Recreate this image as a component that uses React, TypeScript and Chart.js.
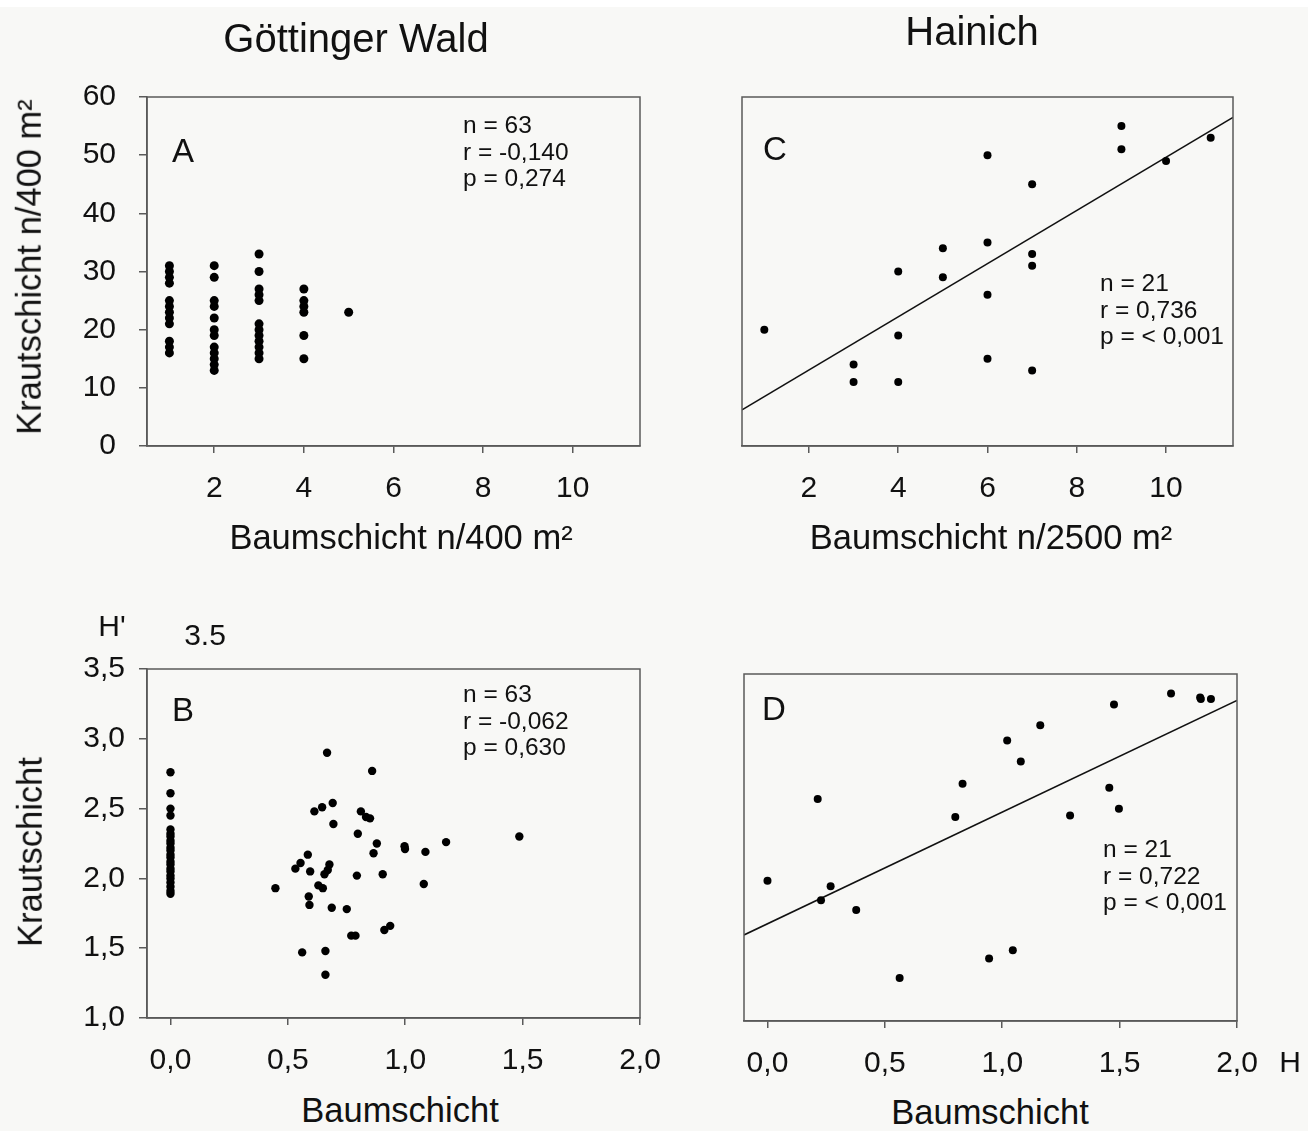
import React, { useEffect, useRef } from "react";
import { Chart, registerables } from "chart.js";
Chart.register(...registerables);

const FONT = '"Liberation Sans", Arial, Helvetica, sans-serif';
const AXIS = "#5a5a5a";
const INK = "#111111";

// ---- Panel A: Göttinger Wald, species richness (n/400 m²)
const gwTreeRichness = [
  1, 1, 1, 1, 1, 1, 1, 1, 1, 1, 1, 1,
  2, 2, 2, 2, 2, 2, 2, 2, 2, 2, 2, 2,
  3, 3, 3, 3, 3, 3, 3, 3, 3, 3, 3, 3,
  4, 4, 4, 4, 4, 4,
  5,
];
const gwHerbRichness = [
  31, 30, 29, 28, 25, 24, 23, 22, 21, 18, 17, 16,
  31, 29, 25, 24, 22, 20, 19, 17, 16, 15, 14, 13,
  33, 30, 27, 26, 25, 21, 20, 19, 18, 17, 16, 15,
  27, 25, 24, 23, 19, 15,
  23,
];

// ---- Panel B: Göttinger Wald, Shannon diversity H'
const gwTreeDiversity = [
  0, 0, 0, 0, 0, 0, 0, 0, 0, 0, 0, 0, 0, 0, 0, 0, 0, 0, 0, 0, 0, 0, 0,
  0.667, 0.859, 0.691, 0.646, 0.613, 0.811, 0.833, 0.85, 0.694, 0.798,
  1.174, 1.486, 0.879, 0.997, 0.999, 1.086, 0.865, 0.585, 0.554, 0.677,
  0.532, 0.595, 0.67, 0.656, 0.794, 0.904, 1.079, 0.63, 0.649, 0.447,
  0.589, 0.592, 0.687, 0.751, 0.936, 0.911, 0.77, 0.788, 0.561, 0.66, 0.66,
];
const gwHerbDiversity = [
  2.76, 2.61, 2.5, 2.45, 2.35, 2.32, 2.3, 2.27, 2.25, 2.22, 2.2, 2.17,
  2.15, 2.12, 2.1, 2.07, 2.05, 2.02, 2.0, 1.97, 1.94, 1.91, 1.89,
  2.9, 2.77, 2.54, 2.51, 2.48, 2.48, 2.44, 2.43, 2.39, 2.32,
  2.26, 2.3, 2.25, 2.23, 2.21, 2.19, 2.18, 2.17, 2.11, 2.1,
  2.07, 2.05, 2.06, 2.03, 2.02, 2.03, 1.96, 1.95, 1.93, 1.93,
  1.87, 1.81, 1.79, 1.78, 1.66, 1.63, 1.59, 1.59, 1.47, 1.48, 1.31,
];

// ---- Panel C: Hainich, species richness (n/2500 m²)
const haTreeRichness = [1, 3, 3, 4, 4, 4, 5, 5, 6, 6, 6, 6, 7, 7, 7, 7, 9, 9, 10, 11];
const haHerbRichness = [20, 14, 11, 30, 19, 11, 34, 29, 50, 35, 26, 15, 45, 33, 31, 13, 55, 51, 49, 53];
const haRichFitX = [0.5, 11.5];
const haRichFitY = [6.2, 56.5];

// ---- Panel D: Hainich, Shannon diversity H'
const haTreeDiversity = [
  0.0, 0.214, 0.269, 0.228, 0.378, 0.563, 0.8, 0.831, 0.944, 1.021, 1.045,
  1.079, 1.162, 1.289, 1.456, 1.476, 1.497, 1.719, 1.843, 1.846, 1.889,
];
const haHerbDiversity = [
  2.01, 2.6, 1.97, 1.87, 1.8, 1.31, 2.47, 2.71, 1.45, 3.02, 1.51,
  2.87, 3.13, 2.48, 2.68, 3.28, 2.53, 3.36, 3.33, 3.32, 3.32,
];
const haDivFitX = [-0.1, 2.0];
const haDivFitY = [1.62, 3.31];

// ---- Tick labels
const richTreeTicks = [2, 4, 6, 8, 10];
const richHerbTicks = [0, 10, 20, 30, 40, 50, 60];
const divTreeTicks = [0, 0.5, 1.0, 1.5, 2.0];
const divHerbTicks = [1.0, 1.5, 2.0, 2.5, 3.0, 3.5];

const zip = (xs: number[], ys: number[]) => xs.map((x, i) => ({ x, y: ys[i] }));
const intFmt = (v: number) => String(Math.round(v));
const decFmt = (v: number) => v.toFixed(1).replace(".", ",");

type PanelProps = {
  cx: number; cy: number; w: number; h: number;
  l: number; t: number; r: number; b: number;
  xMin: number; xMax: number; yMin: number; yMax: number;
  xTicks: number[]; yTicks: number[] | null;
  yPad?: number;
  fmt: (v: number) => string;
  xs: number[]; ys: number[];
  fitX?: number[]; fitY?: number[];
  radius: number;
};

const framePlugin = {
  id: "frame",
  afterDatasetsDraw(chart: any) {
    const { ctx, chartArea } = chart;
    ctx.save();
    ctx.strokeStyle = AXIS;
    ctx.lineWidth = 1.5;
    ctx.strokeRect(
      chartArea.left,
      chartArea.top,
      chartArea.right - chartArea.left,
      chartArea.bottom - chartArea.top
    );
    ctx.restore();
  },
};

function Panel(p: PanelProps) {
  const ref = useRef<HTMLCanvasElement | null>(null);
  useEffect(() => {
    if (!ref.current) return;
    const yW = p.l - p.cx;
    const padT = p.t - p.cy;
    const padR = p.cx + p.w - p.r;
    const xH = p.cy + p.h - p.b;
    const datasets: any[] = [
      {
        data: zip(p.xs, p.ys),
        backgroundColor: "#000",
        borderWidth: 0,
        pointRadius: p.radius,
        showLine: false,
      },
    ];
    if (p.fitX && p.fitY) {
      datasets.push({
        data: zip(p.fitX, p.fitY),
        showLine: true,
        borderColor: INK,
        borderWidth: 1.6,
        pointRadius: 0,
        fill: false,
      });
    }
    const chart = new Chart(ref.current, {
      type: "scatter",
      data: { datasets },
      plugins: [framePlugin],
      options: {
        animation: false,
        responsive: false,
        maintainAspectRatio: false,
        events: [],
        layout: { padding: { left: 0, top: padT, right: padR, bottom: 0 } },
        plugins: { legend: { display: false }, tooltip: { enabled: false } },
        scales: {
          x: {
            type: "linear",
            min: p.xMin,
            max: p.xMax,
            afterBuildTicks: (s: any) => {
              s.ticks = p.xTicks.map((v) => ({ value: v }));
            },
            afterFit: (s: any) => {
              s.height = xH;
            },
            border: { display: true, color: AXIS, width: 1.5 },
            grid: {
              display: true,
              drawOnChartArea: false,
              drawTicks: true,
              tickLength: 7,
              color: AXIS,
              lineWidth: 1.5,
            },
            ticks: {
              autoSkip: false,
              maxRotation: 0,
              padding: 18,
              color: INK,
              font: { family: FONT, size: 30 },
              callback: (v: any) => p.fmt(Number(v)),
            },
          },
          y: {
            type: "linear",
            display: p.yTicks ? true : false,
            min: p.yMin,
            max: p.yMax,
            afterBuildTicks: (s: any) => {
              if (p.yTicks) s.ticks = p.yTicks.map((v) => ({ value: v }));
            },
            afterFit: (s: any) => {
              s.width = yW;
            },
            border: { display: true, color: AXIS, width: 1.5 },
            grid: {
              display: true,
              drawOnChartArea: false,
              drawTicks: true,
              tickLength: 8,
              color: AXIS,
              lineWidth: 1.5,
            },
            ticks: {
              autoSkip: false,
              padding: p.yPad ?? 18,
              color: INK,
              font: { family: FONT, size: 30 },
              callback: (v: any) => p.fmt(Number(v)),
            },
          },
        },
      } as any,
    });
    return () => chart.destroy();
  }, []);
  return (
    <canvas
      ref={ref}
      width={p.w}
      height={p.h}
      style={{ position: "absolute", left: p.cx, top: p.cy, width: p.w, height: p.h }}
    />
  );
}

function Txt(props: {
  x: number; y: number; size: number; children: React.ReactNode;
  align?: "center" | "left"; rotate?: boolean;
}) {
  const tx = props.align === "left" ? "0" : "-50%";
  return (
    <div
      style={{
        position: "absolute",
        left: props.x,
        top: props.y,
        transform: `translate(${tx}, -50%)${props.rotate ? " rotate(-90deg)" : ""}`,
        transformOrigin: props.rotate ? "center center" : undefined,
        fontFamily: FONT,
        fontSize: props.size,
        lineHeight: 1,
        color: INK,
        whiteSpace: "nowrap",
      }}
    >
      {props.children}
    </div>
  );
}

function Stats(props: { x: number; y: number; lines: string[] }) {
  return (
    <>
      {props.lines.map((s, i) => (
        <Txt key={i} x={props.x} y={props.y + i * 26.5} size={24.5} align="left">
          {s}
        </Txt>
      ))}
    </>
  );
}

export default function App() {
  return (
    <div
      style={{
        position: "absolute",
        left: 0,
        top: 0,
        width: 1308,
        height: 1131,
        background: "#f8f8f6",
        overflow: "hidden",
      }}
    >
      <div style={{ position: "absolute", left: 0, top: 0, width: 1308, height: 7, background: "#ffffff" }} />

      <Panel
        cx={0} cy={40} w={660} h={490}
        l={147} t={97} r={640} b={446}
        xMin={0.5} xMax={11.5} yMin={0} yMax={60}
        xTicks={richTreeTicks} yTicks={richHerbTicks} yPad={23} fmt={intFmt}
        xs={gwTreeRichness} ys={gwHerbRichness} radius={4.5}
      />
      <Panel
        cx={680} cy={40} w={600} h={490}
        l={742} t={97} r={1233} b={446}
        xMin={0.5} xMax={11.5} yMin={0} yMax={60}
        xTicks={richTreeTicks} yTicks={null} fmt={intFmt}
        xs={haTreeRichness} ys={haHerbRichness}
        fitX={haRichFitX} fitY={haRichFitY} radius={4}
      />
      <Panel
        cx={0} cy={610} w={700} h={480}
        l={147} t={669} r={640} b={1018}
        xMin={-0.1} xMax={2.0} yMin={1.0} yMax={3.5}
        xTicks={divTreeTicks} yTicks={divHerbTicks} yPad={14} fmt={decFmt}
        xs={gwTreeDiversity} ys={gwHerbDiversity} radius={4.2}
      />
      <Panel
        cx={680} cy={610} w={620} h={480}
        l={744} t={674} r={1237} b={1021}
        xMin={-0.1} xMax={2.0} yMin={1.0} yMax={3.5}
        xTicks={divTreeTicks} yTicks={null} fmt={decFmt}
        xs={haTreeDiversity} ys={haHerbDiversity}
        fitX={haDivFitX} fitY={haDivFitY} radius={4}
      />

      <Txt x={356} y={38} size={40}>Göttinger Wald</Txt>
      <Txt x={972} y={31} size={40}>Hainich</Txt>

      <Txt x={29} y={267} size={34.5} rotate>Krautschicht n/400 m²</Txt>
      <Txt x={30} y={852} size={34.5} rotate>Krautschicht</Txt>
      <Txt x={401} y={537} size={34.5}>Baumschicht n/400 m²</Txt>
      <Txt x={991} y={537} size={34.5}>Baumschicht n/2500 m²</Txt>
      <Txt x={400} y={1110} size={34.5}>Baumschicht</Txt>
      <Txt x={990} y={1112} size={34.5}>Baumschicht</Txt>

      <Txt x={112} y={626} size={30}>H'</Txt>
      <Txt x={205} y={635} size={30}>3.5</Txt>
      <Txt x={1290} y={1062} size={30}>H</Txt>

      <Txt x={172} y={150} size={33} align="left">A</Txt>
      <Txt x={172} y={709} size={33} align="left">B</Txt>
      <Txt x={763} y={148} size={33} align="left">C</Txt>
      <Txt x={762} y={708} size={33} align="left">D</Txt>

      <Stats x={463} y={125} lines={["n = 63", "r = -0,140", "p = 0,274"]} />
      <Stats x={463} y={694} lines={["n = 63", "r = -0,062", "p = 0,630"]} />
      <Stats x={1100} y={283} lines={["n = 21", "r = 0,736", "p = < 0,001"]} />
      <Stats x={1103} y={849} lines={["n = 21", "r = 0,722", "p = < 0,001"]} />
    </div>
  );
}
